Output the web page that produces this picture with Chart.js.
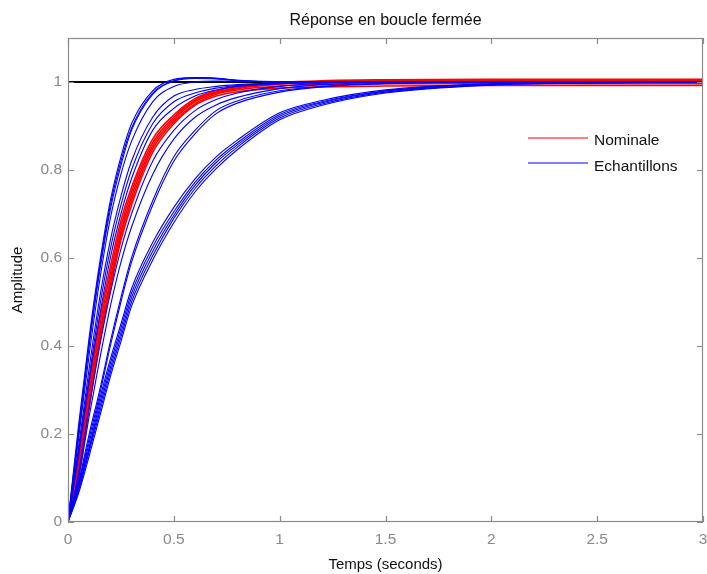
<!DOCTYPE html>
<html>
<head>
<meta charset="utf-8">
<title>Réponse en boucle fermée</title>
<script src="https://cdn.jsdelivr.net/npm/chart.js@4.4.1/dist/chart.umd.min.js"></script>
<style>
  html, body { margin: 0; padding: 0; background: #fff; }
  #wrap { width: 707px; height: 574px; }
</style>
</head>
<body>
<div id="wrap"><canvas id="plot" width="707" height="574"></canvas></div>
<script>
// time base (s) shared by every response
const time = [0, 0.05, 0.1, 0.15, 0.2, 0.25, 0.3, 0.4, 0.5, 0.6, 0.7, 0.8, 1.0, 1.2, 1.5, 2.0, 2.5, 3.0];

// nominal responses (red band)
const nominale1 = [0, 0.12, 0.28, 0.43, 0.55, 0.66, 0.74, 0.855, 0.915, 0.955, 0.975, 0.985, 0.995, 0.998, 1.0, 1.0, 1.0, 1.0];
const nominale2 = [0, 0.14, 0.31, 0.46, 0.58, 0.685, 0.76, 0.87, 0.925, 0.962, 0.98, 0.99, 0.999, 1.003, 1.005, 1.006, 1.006, 1.006];
const nominale3 = [0, 0.10, 0.26, 0.41, 0.53, 0.64, 0.72, 0.84, 0.905, 0.947, 0.968, 0.978, 0.986, 0.989, 0.991, 0.992, 0.992, 0.992];
const nominale4 = [0, 0.13, 0.295, 0.445, 0.565, 0.672, 0.75, 0.862, 0.92, 0.958, 0.977, 0.987, 0.997, 1.001, 1.003, 1.003, 1.003, 1.003];
const nominale5 = [0, 0.11, 0.27, 0.42, 0.54, 0.65, 0.73, 0.848, 0.91, 0.95, 0.972, 0.982, 0.991, 0.994, 0.996, 0.996, 0.996, 0.996];

// sampled responses (blue)
const echantillon1 = [0, 0.22, 0.42, 0.59, 0.73, 0.83, 0.905, 0.98, 1.006, 1.01, 1.009, 1.004, 1.0, 1.0, 1.0, 1.0, 1.0, 1.0];
const echantillon2 = [0, 0.20, 0.40, 0.57, 0.71, 0.81, 0.89, 0.972, 1.003, 1.01, 1.008, 1.004, 1.001, 1.0, 1.0, 1.0, 1.0, 1.0];
const echantillon3 = [0, 0.21, 0.41, 0.58, 0.72, 0.82, 0.895, 0.975, 1.002, 1.008, 1.007, 1.003, 1.0, 1.0, 1.0, 1.0, 1.0, 1.0];
const echantillon4 = [0, 0.19, 0.38, 0.55, 0.69, 0.79, 0.865, 0.955, 0.99, 1.0, 1.002, 1.002, 1.0, 1.0, 1.0, 1.0, 1.0, 1.0];
const echantillon5 = [0, 0.17, 0.35, 0.51, 0.64, 0.74, 0.82, 0.92, 0.968, 0.983, 0.99, 0.994, 0.998, 1.0, 1.001, 1.001, 1.001, 1.001];
const echantillon6 = [0, 0.16, 0.33, 0.49, 0.62, 0.72, 0.80, 0.905, 0.955, 0.975, 0.986, 0.992, 0.997, 0.999, 1.0, 1.0, 1.0, 1.0];
const echantillon7 = [0, 0.15, 0.32, 0.47, 0.60, 0.70, 0.78, 0.89, 0.94, 0.968, 0.982, 0.99, 0.996, 0.999, 1.0, 1.0, 1.0, 1.0];
const echantillon8 = [0, 0.11, 0.26, 0.40, 0.52, 0.62, 0.70, 0.82, 0.89, 0.935, 0.96, 0.975, 0.99, 0.997, 1.0, 1.0, 1.0, 1.0];
const echantillon9 = [0, 0.10, 0.24, 0.37, 0.49, 0.59, 0.67, 0.79, 0.87, 0.92, 0.948, 0.965, 0.985, 0.994, 0.999, 1.0, 1.0, 1.0];
const echantillon10 = [0, 0.09, 0.20, 0.30, 0.41, 0.51, 0.60, 0.73, 0.83, 0.89, 0.935, 0.957, 0.98, 0.99, 0.997, 1.0, 1.0, 1.0];
const echantillon11 = [0, 0.085, 0.19, 0.29, 0.40, 0.50, 0.59, 0.72, 0.82, 0.882, 0.928, 0.952, 0.977, 0.989, 0.996, 1.0, 1.0, 1.0];
const echantillon12 = [0, 0.085, 0.18, 0.28, 0.37, 0.45, 0.53, 0.635, 0.715, 0.78, 0.83, 0.868, 0.93, 0.958, 0.982, 0.996, 0.999, 1.0];
const echantillon13 = [0, 0.08, 0.17, 0.27, 0.36, 0.44, 0.52, 0.625, 0.705, 0.772, 0.823, 0.862, 0.926, 0.955, 0.98, 0.995, 0.999, 1.0];
const echantillon14 = [0, 0.075, 0.165, 0.26, 0.35, 0.43, 0.51, 0.615, 0.697, 0.765, 0.817, 0.857, 0.922, 0.953, 0.979, 0.995, 0.999, 1.0];
const echantillon15 = [0, 0.07, 0.16, 0.25, 0.34, 0.42, 0.50, 0.605, 0.69, 0.758, 0.81, 0.852, 0.918, 0.95, 0.977, 0.994, 0.998, 1.0];
const echantillon16 = [0, 0.065, 0.15, 0.24, 0.33, 0.41, 0.49, 0.595, 0.68, 0.75, 0.803, 0.846, 0.914, 0.947, 0.975, 0.993, 0.998, 1.0];

// setpoint line
const consigneTime = [0, 3];
const consigne = [1, 1];

const xTicks = [0, 0.5, 1, 1.5, 2, 2.5, 3];
const xTickLabels = ["0", "0.5", "1", "1.5", "2", "2.5", "3"];
const yTicks = [0, 0.2, 0.4, 0.6, 0.8, 1];
const yTickLabels = ["0", "0.2", "0.4", "0.6", "0.8", "1"];

const nominales = [nominale1, nominale2, nominale3, nominale4, nominale5];
const echantillons = [echantillon1, echantillon2, echantillon3, echantillon4, echantillon5, echantillon6,
  echantillon7, echantillon8, echantillon9, echantillon10, echantillon11, echantillon12,
  echantillon13, echantillon14, echantillon15, echantillon16];

const FONT = '"Liberation Sans", Arial, Helvetica, sans-serif';
const AXIS_GREY = "#8a8a8a";

function toPoints(xs, ys) {
  return xs.map((x, i) => ({ x: x, y: ys[i] }));
}

function curve(label, values, color, width, order) {
  return {
    label: label,
    data: toPoints(time, values),
    borderColor: color,
    borderWidth: width,
    pointRadius: 0,
    fill: false,
    cubicInterpolationMode: "monotone",
    order: order
  };
}

const datasets = [];
echantillons.forEach(v => datasets.push(curve("Echantillons", v, "#0000ff", 1.1, 1)));
nominales.forEach(v => datasets.push(curve("Nominale", v, "#ff0000", 1.6, 2)));
datasets.push({
  label: "Consigne",
  data: toPoints(consigneTime, consigne),
  borderColor: "#000000",
  borderWidth: 2,
  pointRadius: 0,
  order: 3
});

// frame, inner tick marks, title and legend, drawn MATLAB style
const decor = {
  id: "decor",
  afterDraw(chart) {
    const ctx = chart.ctx;
    const a = chart.chartArea;
    const xs = chart.scales.x;
    const ys = chart.scales.y;
    ctx.save();
    ctx.strokeStyle = AXIS_GREY;
    ctx.lineWidth = 1.2;
    ctx.strokeRect(a.left + 0.5, a.top + 0.5, a.right - a.left - 1, a.bottom - a.top - 1);

    ctx.beginPath();
    xTicks.forEach(v => {
      const px = Math.round(xs.getPixelForValue(v)) + 0.5;
      ctx.moveTo(px, a.bottom); ctx.lineTo(px, a.bottom - 6);
      ctx.moveTo(px, a.top); ctx.lineTo(px, a.top + 6);
    });
    yTicks.forEach(v => {
      const py = Math.round(ys.getPixelForValue(v)) + 0.5;
      ctx.moveTo(a.left, py); ctx.lineTo(a.left + 6, py);
      ctx.moveTo(a.right, py); ctx.lineTo(a.right - 6, py);
    });
    ctx.stroke();

    // title
    ctx.fillStyle = "#111";
    ctx.font = "16px " + FONT;
    ctx.textAlign = "center";
    ctx.textBaseline = "alphabetic";
    ctx.fillText("Réponse en boucle fermée", (a.left + a.right) / 2, 25);

    // legend
    ctx.lineWidth = 1.2;
    ctx.strokeStyle = "#ff0000";
    ctx.beginPath(); ctx.moveTo(528, 138); ctx.lineTo(588, 138); ctx.stroke();
    ctx.strokeStyle = "#0000ff";
    ctx.beginPath(); ctx.moveTo(528, 163); ctx.lineTo(588, 163); ctx.stroke();
    ctx.font = "15.5px " + FONT;
    ctx.textAlign = "left";
    ctx.fillText("Nominale", 594, 145);
    ctx.fillText("Echantillons", 594, 171);
    ctx.restore();
  }
};

new Chart(document.getElementById("plot"), {
  type: "line",
  data: { datasets: datasets },
  options: {
    responsive: false,
    animation: false,
    devicePixelRatio: 1,
    layout: { padding: { top: 38, right: 0, left: 0, bottom: 0 } },
    plugins: {
      legend: { display: false },
      tooltip: { enabled: false },
      title: { display: false }
    },
    scales: {
      x: {
        type: "linear",
        min: 0,
        max: 3,
        grid: { display: false, drawTicks: false },
        border: { display: false },
        afterBuildTicks: s => { s.ticks = xTicks.map(v => ({ value: v })); },
        afterFit: s => { s.height = 52; s.paddingLeft = 4; s.paddingRight = 4; },
        ticks: {
          padding: 8,
          color: AXIS_GREY,
          font: { family: FONT, size: 15.5 },
          maxRotation: 0,
          callback: (v, i) => xTickLabels[i]
        },
        title: {
          display: true,
          text: "Temps (seconds)",
          color: "#111",
          font: { family: FONT, size: 15 },
          padding: { top: 0, bottom: 0 }
        }
      },
      y: {
        type: "linear",
        min: 0,
        max: 1.1,
        grid: { display: false, drawTicks: false },
        border: { display: false },
        afterBuildTicks: s => { s.ticks = yTicks.map(v => ({ value: v })); },
        afterFit: s => { s.width = 68; s.paddingTop = 0; s.paddingBottom = 0; },
        ticks: {
          padding: 6,
          color: AXIS_GREY,
          font: { family: FONT, size: 15.5 },
          callback: (v, i) => yTickLabels[i]
        },
        title: {
          display: true,
          text: "Amplitude",
          color: "#111",
          font: { family: FONT, size: 15 },
          padding: { top: 9, bottom: 0 }
        }
      }
    }
  },
  plugins: [decor]
});
</script>
</body>
</html>
